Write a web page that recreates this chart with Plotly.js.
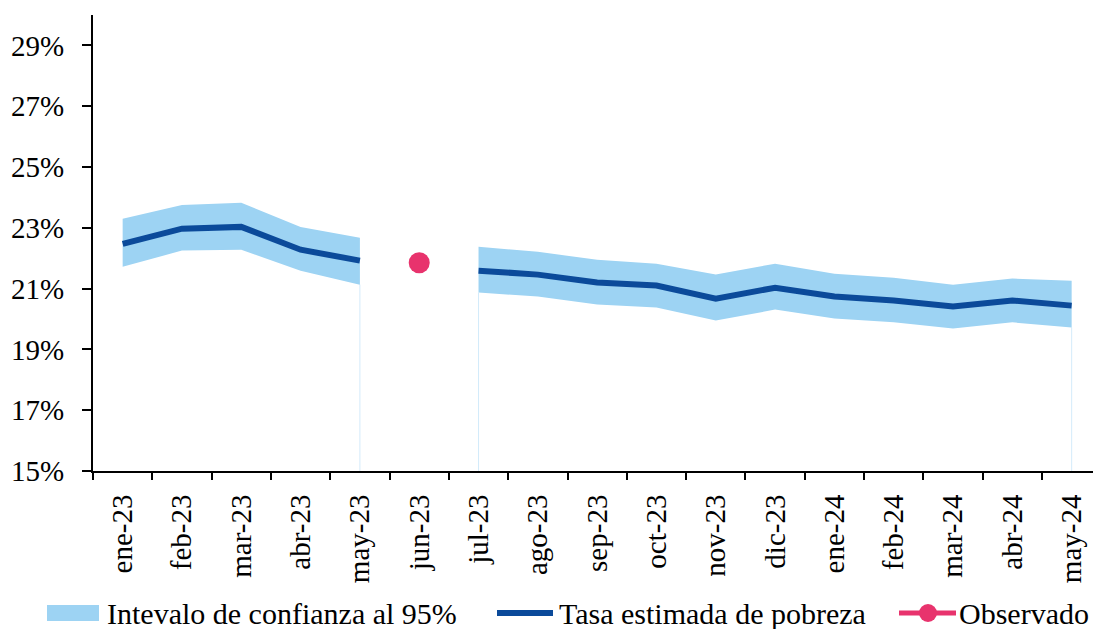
<!DOCTYPE html>
<html>
<head>
<meta charset="utf-8">
<script src="https://cdn.plot.ly/plotly-3.0.1.min.js"></script>
<style>html,body{margin:0;padding:0;background:#fff;}#chart{width:1093px;height:629px;}</style>
</head>
<body>
<div id="chart"></div>
<script>
const months = ["ene-23","feb-23","mar-23","abr-23","may-23","jun-23","jul-23","ago-23","sep-23","oct-23","nov-23","dic-23","ene-24","feb-24","mar-24","abr-24","may-24"];
const estimate = [22.47,22.97,23.03,22.28,21.92,null,21.59,21.46,21.20,21.10,20.67,21.03,20.74,20.61,20.41,20.61,20.44];
const upper = [23.30,23.75,23.82,23.03,22.67,null,22.38,22.21,21.95,21.82,21.46,21.82,21.49,21.36,21.13,21.33,21.26];
const lower = [21.72,22.25,22.28,21.59,21.13,null,20.87,20.74,20.48,20.38,19.95,20.31,20.02,19.89,19.69,19.89,19.72];
const observedX = ["jun-23"];
const observedY = [21.85];
const yTicks = [15,17,19,21,23,25,27,29];

const FONT = "Liberation Serif, Times New Roman, serif";
const BAND = "#9DD3F3";
const NAVY = "#0B4A9A";
const PINK = "#E8336D";

function segments(){
  const segs=[]; let cur=[];
  months.forEach((m,i)=>{ if(upper[i]==null){ if(cur.length) segs.push(cur); cur=[]; } else cur.push(i); });
  if(cur.length) segs.push(cur);
  return segs;
}
const traces=[];
const shapes=[];
segments().forEach(seg=>{
  const xs = seg.map(i=>months[i]).concat(seg.slice().reverse().map(i=>months[i]));
  const ys = seg.map(i=>upper[i]).concat(seg.slice().reverse().map(i=>lower[i]));
  traces.push({x:xs,y:ys,type:'scatter',mode:'lines',fill:'toself',fillcolor:BAND,line:{width:0,color:BAND},showlegend:false,hoverinfo:'skip'});
  const last = seg[seg.length-1], first=seg[0];
  [first,last].forEach(i=>{
    if(i===0) return;
    shapes.push({type:'line',xref:'x',yref:'y',x0:months[i],x1:months[i],y0:15,y1:lower[i],line:{color:'rgba(157,211,243,0.45)',width:1},layer:'below'});
  });
});
traces.push({x:months,y:estimate,type:'scatter',mode:'lines',line:{color:NAVY,width:6},connectgaps:false,showlegend:false});
traces.push({x:observedX,y:observedY,type:'scatter',mode:'markers',marker:{color:PINK,size:21},showlegend:false});

// manual legend (pixel positions converted to paper coords)
const PL=93, PW=1000, PB=471, PH=456;
const px = v=>(v-PL)/PW, py = v=>(PB-v)/PH;
const LY = 613;
shapes.push({type:'rect',xref:'paper',yref:'paper',x0:px(47),x1:px(99),y0:py(621),y1:py(605),fillcolor:BAND,line:{width:0}});
shapes.push({type:'line',xref:'paper',yref:'paper',x0:px(497),x1:px(553),y0:py(LY),y1:py(LY),line:{color:NAVY,width:6}});
shapes.push({type:'line',xref:'paper',yref:'paper',x0:px(899),x1:px(956),y0:py(LY),y1:py(LY),line:{color:PINK,width:5}});
shapes.push({type:'circle',xref:'paper',yref:'paper',x0:px(919),x1:px(937),y0:py(LY+9),y1:py(LY-9),fillcolor:PINK,line:{width:0}});
const legendTexts=[["Intevalo de confianza al 95%",105],["Tasa estimada de pobreza",557],["Observado",957]];
const annotations = legendTexts.map(([t,x])=>({xref:'paper',yref:'paper',x:px(x),y:py(LY),xanchor:'left',yanchor:'middle',text:t,showarrow:false,font:{family:FONT,size:30,color:'#000'}}));

const layout={
  width:1093,height:629,
  margin:{l:93,r:0,t:15,b:158,pad:0},
  paper_bgcolor:'#fff',plot_bgcolor:'#fff',
  showlegend:false,
  font:{family:FONT,size:29,color:'#000'},
  xaxis:{type:'category',categoryorder:'array',categoryarray:months,range:[-0.5,16.36],
    showline:true,linecolor:'#000',linewidth:2,ticks:'outside',ticklen:7,tickwidth:2,tickcolor:'#000',
    tickson:'boundaries',tickangle:-90,showgrid:false,zeroline:false,
    tickfont:{family:FONT,size:29,color:'#000'},ticklabelstandoff:10,fixedrange:true},
  yaxis:{range:[15,30],tickvals:yTicks,ticktext:yTicks.map(v=>v+'%'),
    showline:true,linecolor:'#000',linewidth:2,ticks:'outside',ticklen:9,tickwidth:2,tickcolor:'#000',
    showgrid:false,zeroline:false,tickfont:{family:FONT,size:29,color:'#000'},ticklabelstandoff:12,fixedrange:true},
  shapes:shapes,annotations:annotations
};
Plotly.newPlot('chart',traces,layout,{displayModeBar:false,staticPlot:true});
</script>
</body>
</html>
